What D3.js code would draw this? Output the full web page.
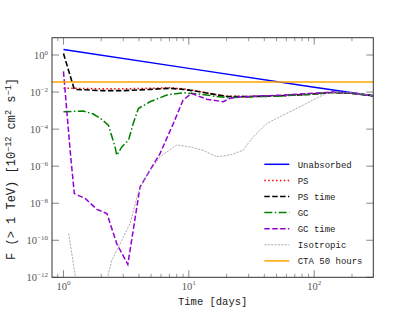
<!DOCTYPE html>
<html>
<head>
<meta charset="utf-8">
<script src="https://cdn.jsdelivr.net/npm/d3@7"></script>
<style>
  body { margin: 0; background: #fff; }
  svg { display: block; }
</style>
</head>
<body>
<div id="chart"></div>
<script>
// values (days, flux above 1 TeV in 1e-12 cm^-2 s^-1)
const unabsDays = [1, 10, 100, 296];
const unabsFlux = [2.0, 0.19, 0.018, 0.0064];

const psDays = [1, 1.2, 2, 3, 5, 7, 9, 12.3, 16, 20, 30, 50, 90, 140, 200, 296];
const psFlux = [0.016, 0.016, 0.015, 0.015, 0.016, 0.017, 0.015, 0.0105, 0.0075, 0.006, 0.0058, 0.0062, 0.0075, 0.0095, 0.0085, 0.0063];

const psTimeDays = [1, 1.22, 2, 3, 5, 7, 9, 12.3, 16, 20, 30, 50, 90, 140, 200, 296];
const psTimeFlux = [1.2, 0.014, 0.012, 0.012, 0.014, 0.016, 0.014, 0.0104, 0.0075, 0.0058, 0.0057, 0.0062, 0.0075, 0.0095, 0.0085, 0.0063];

const gcDays = [1, 1.44, 1.73, 2.0, 2.28, 2.58, 2.66, 2.92, 3.3, 3.6, 3.96, 4.9, 6.67, 9.0, 12.3, 16, 21, 30, 50, 90, 140, 200, 296];
const gcFlux = [8.7e-4, 9.5e-4, 6.5e-4, 3.5e-4, 1.65e-4, 1.1e-5, 3.9e-6, 1.1e-5, 2.5e-5, 2e-4, 1.3e-3, 3e-3, 6.9e-3, 9.2e-3, 7.8e-3, 6e-3, 5e-3, 5.5e-3, 6e-3, 7.5e-3, 9.5e-3, 8.5e-3, 6.3e-3];

const gcTimeDays = [1, 1.13, 1.22, 1.49, 1.85, 2.22, 2.66, 3.26, 4.08, 4.9, 5.9, 7.52, 9.0, 10.5, 13.9, 18.8, 21.3, 27, 40, 60, 90, 140, 200, 296];
const gcTimeFlux = [0.13, 7.2e-6, 3.3e-8, 1.8e-8, 4.6e-9, 2.8e-9, 6.6e-11, 4.9e-12, 7.6e-8, 6e-7, 4.9e-6, 2e-4, 3.7e-3, 8.5e-3, 4.1e-3, 3e-3, 4.6e-3, 5.6e-3, 6.3e-3, 7e-3, 8.3e-3, 0.01, 8.9e-3, 6.3e-3];

const isoDays = [1.1, 1.3, 2.1, 2.43, 2.92, 3.4, 3.96, 4.62, 5.9, 8.0, 10.2, 13.0, 16.7, 21.3, 27, 32.6, 41.8, 56.7, 77, 104, 125, 160, 220, 296];
const isoFlux = [2.3e-10, 1.6e-13, 1.6e-13, 8.3e-12, 1e-10, 8e-10, 4.1e-8, 3.2e-7, 3.2e-6, 1.4e-5, 1.1e-5, 7.2e-6, 3.2e-6, 4e-6, 7.2e-6, 3.8e-5, 2e-4, 5.8e-4, 1.6e-3, 4.6e-3, 8.5e-3, 0.01, 8.9e-3, 6.3e-3];

const ctaDays = [0.81, 296];
const ctaFlux = [0.035, 0.035];

const yTickExps = [0, -2, -4, -6, -8, -10, -12];
const xTickExps = [0, 1, 2];

const series = [
  { name: "Unabsorbed", days: unabsDays, flux: unabsFlux, color: "#0000ff", width: 1.5, dash: null },
  { name: "PS", days: psDays, flux: psFlux, color: "#ff0000", width: 1.5, dash: "1.5,2.4" },
  { name: "PS time", days: psTimeDays, flux: psTimeFlux, color: "#000000", width: 1.6, dash: "5.5,2.4" },
  { name: "GC", days: gcDays, flux: gcFlux, color: "#008000", width: 1.5, dash: "8,2.4,1.5,2.4" },
  { name: "GC time", days: gcTimeDays, flux: gcTimeFlux, color: "#9400d3", width: 1.5, dash: "5.5,2.4" },
  { name: "Isotropic", days: isoDays, flux: isoFlux, color: "#999999", width: 0.8, dash: "2.2,1.2" },
  { name: "CTA 50 hours", days: ctaDays, flux: ctaFlux, color: "#ffa500", width: 1.5, dash: null }
];

const W = 415, H = 312;
const margin = { top: 37.7, right: 41.7, bottom: 34.7, left: 52 };

const svg = d3.select("#chart").append("svg")
  .attr("width", W)
  .attr("height", H);

const x = d3.scaleLog()
  .domain([0.81, 296])
  .range([margin.left, W - margin.right]);

const y = d3.scaleLog()
  .domain([1e-12, Math.pow(10, 0.935)])
  .range([H - margin.bottom, margin.top]);

const x0 = margin.left, x1 = W - margin.right;
const y0 = H - margin.bottom, y1 = margin.top;

svg.append("clipPath").attr("id", "clip")
  .append("rect")
  .attr("x", x0).attr("y", y1)
  .attr("width", x1 - x0).attr("height", y0 - y1);

// --- ticks (inward, all four sides) ---
const tickCol = "#888";
const minorX = [];
for (let e = -1; e <= 2; e++) {
  for (let m = 2; m <= 9; m++) {
    const v = m * Math.pow(10, e);
    if (v >= 0.81 && v <= 296) minorX.push(v);
  }
}
const ticks = svg.append("g");
minorX.forEach(v => {
  ticks.append("line").attr("x1", x(v)).attr("x2", x(v)).attr("y1", y0).attr("y2", y0 - 3.5)
    .attr("stroke", "#555").attr("stroke-width", 0.6);
  ticks.append("line").attr("x1", x(v)).attr("x2", x(v)).attr("y1", y1).attr("y2", y1 + 3.5)
    .attr("stroke", "#555").attr("stroke-width", 0.6);
});
xTickExps.forEach(e => {
  const v = Math.pow(10, e);
  ticks.append("line").attr("x1", x(v)).attr("x2", x(v)).attr("y1", y0).attr("y2", y0 - 7)
    .attr("stroke", tickCol).attr("stroke-width", 1);
  ticks.append("line").attr("x1", x(v)).attr("x2", x(v)).attr("y1", y1).attr("y2", y1 + 7)
    .attr("stroke", tickCol).attr("stroke-width", 1);
});
yTickExps.forEach(e => {
  const v = Math.pow(10, e);
  ticks.append("line").attr("x1", x0).attr("x2", x0 + 7).attr("y1", y(v)).attr("y2", y(v))
    .attr("stroke", tickCol).attr("stroke-width", 1);
  ticks.append("line").attr("x1", x1).attr("x2", x1 - 7).attr("y1", y(v)).attr("y2", y(v))
    .attr("stroke", tickCol).attr("stroke-width", 1);
});

// --- lines ---
const line = d3.line()
  .x(d => x(d[0]))
  .y(d => y(d[1]));

const plot = svg.append("g").attr("clip-path", "url(#clip)");
series.forEach(s => {
  plot.append("path")
    .datum(s.days.map((d, i) => [d, s.flux[i]]))
    .attr("fill", "none")
    .attr("stroke", s.color)
    .attr("stroke-width", s.width)
    .attr("stroke-dasharray", s.dash)
    .attr("d", line);
});

// frame
svg.append("rect")
  .attr("x", x0).attr("y", y1)
  .attr("width", x1 - x0).attr("height", y0 - y1)
  .attr("fill", "none")
  .attr("stroke", "#333")
  .attr("stroke-width", 1);

// --- tick labels ---
const serif = "'Liberation Serif', 'DejaVu Serif', serif";
const labCol = "#555";
yTickExps.forEach(e => {
  const t = svg.append("text")
    .attr("x", x0 - 4)
    .attr("y", y(Math.pow(10, e)) + 4)
    .attr("text-anchor", "end")
    .attr("font-family", serif)
    .attr("font-size", 10.5)
    .attr("fill", labCol);
  t.append("tspan").text("10");
  t.append("tspan").attr("dy", -4.5).attr("font-size", 7).text(e === 0 ? "0" : "\u2212" + (-e));
});
xTickExps.forEach(e => {
  const t = svg.append("text")
    .attr("x", x(Math.pow(10, e)))
    .attr("y", y0 + 12.5)
    .attr("text-anchor", "middle")
    .attr("font-family", serif)
    .attr("font-size", 10.5)
    .attr("fill", labCol);
  t.append("tspan").text("10");
  t.append("tspan").attr("dy", -4.5).attr("font-size", 7).text(String(e));
});

// --- axis labels ---
const mono = "'Liberation Mono', 'DejaVu Sans Mono', monospace";
svg.append("text")
  .attr("x", (x0 + x1) / 2)
  .attr("y", 305)
  .attr("text-anchor", "middle")
  .attr("font-family", mono)
  .attr("font-size", 10.5)
  .attr("fill", "#222")
  .text("Time [days]");

const yl = svg.append("text")
  .attr("transform", `translate(15,${169}) rotate(-90)`)
  .attr("text-anchor", "middle")
  .attr("font-family", mono)
  .attr("font-size", 12)
  .attr("fill", "#222");
yl.append("tspan").text("F (> 1 TeV) [10");
yl.append("tspan").attr("dy", -4.5).attr("font-size", 8.5).text("\u221212");
yl.append("tspan").attr("dy", 4.5).text(" cm");
yl.append("tspan").attr("dy", -4.5).attr("font-size", 8.5).text("2");
yl.append("tspan").attr("dy", 4.5).text(" s");
yl.append("tspan").attr("dy", -4.5).attr("font-size", 8.5).text("\u22121");
yl.append("tspan").attr("dy", 4.5).text("]");

// --- legend ---
const lg = svg.append("g");
series.forEach((s, i) => {
  const ly = 164.3 + i * 16.1;
  lg.append("line")
    .attr("x1", 264.3).attr("x2", 289.3)
    .attr("y1", ly).attr("y2", ly)
    .attr("stroke", s.color)
    .attr("stroke-width", s.width)
    .attr("stroke-dasharray", s.dash);
  lg.append("text")
    .attr("x", 297.7)
    .attr("y", ly + 3.3)
    .attr("font-family", mono)
    .attr("font-size", 9)
    .attr("fill", "#222")
    .text(s.name);
});
</script>
</body>
</html>
